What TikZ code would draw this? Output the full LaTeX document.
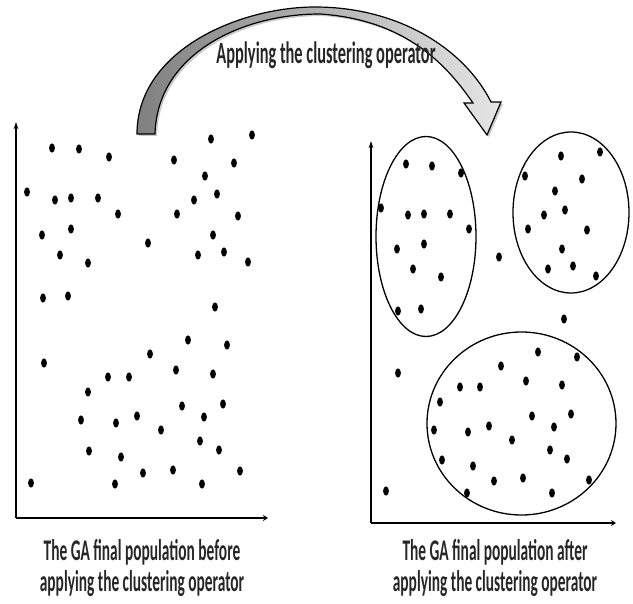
\documentclass[tikz,border=0pt]{standalone}
\usepackage{fontspec}
\setmainfont{Carlito}
\usetikzlibrary{arrows.meta,shadows}
\begin{document}
\begin{tikzpicture}[x=1pt,y=-1pt,
  axis/.style={line width=1.2pt,black},
  dot/.style={fill=black},
  clus/.style={draw=black,line width=1.3pt},
  lbl/.style={font=\fontsize{30}{32}\selectfont\bfseries,xscale=0.513,align=center,inner sep=0pt,text=black!85},
  ttl/.style={font=\fontsize{31}{33}\selectfont\bfseries,xscale=0.528,inner sep=0pt,text=black!85},
  bigarrow/.style={draw=black,line width=1.2pt,left color=black!50,right color=black!10,
     drop shadow={shadow xshift=2pt,shadow yshift=-2pt,opacity=0.3,fill=black!70}}]
\useasboundingbox (0,0) rectangle (633,604);
% curved block arrow
\path[bigarrow] (137,134) .. controls (137,50) and (240,7) .. (315,7)
   .. controls (400,7) and (465,50) .. (491,102)
   -- (501,102) -- (487,135) -- (464,103) -- (473,103)
   .. controls (450,70) and (410,20) .. (320,14)
   .. controls (240,14) and (157,55) .. (155,134) -- cycle;
\node[ttl,anchor=base] (title) at (326,64) {Applying the clustering operator};
% left axes
\coordinate (lo) at (16,518);
\coordinate (ly) at (16,122);
\coordinate (lx) at (268,518);
\draw[axis,-{Stealth[length=7pt,width=4.5pt]}] (lo) -- (ly);
\draw[axis,-{Stealth[length=5pt,width=6pt]}] (lo) -- (lx);
% right axes
\coordinate (ro) at (371,523);
\coordinate (ry) at (371,141);
\coordinate (rx) at (616,523);
\draw[axis,-{Stealth[length=7pt,width=4.5pt]}] (ro) -- (ry);
\draw[axis,-{Stealth[length=5pt,width=6pt]}] (ro) -- (rx);
% clusters
\draw[clus] (426,236.5) ellipse [x radius=50,y radius=100];
\draw[clus] (571,212.5) ellipse [x radius=58,y radius=80.5];
\draw[clus] (521.5,423.5) ellipse [x radius=94.5,y radius=91.5];
% left dots
\foreach \p in {(52,148),(79,149),(109,157),(174,160),(211,139),(252,135),(234,163),(205,176),(27,192),(55,200),(71,198),(98,198),(118,214),(177,214),(194,200),(217,194),(238,216),(42,235),(71,229),(148,243),(213,235),(60,255),(88,263),(198,255),(224,252),(248,262),(43,298),(68,296),(215,307),(188,340),(227,345),(150,354),(44,363),(108,377),(129,377),(176,370),(213,374),(88,392),(182,406),(223,404),(81,420),(116,423),(137,416),(161,430),(204,417),(89,451),(121,457),(200,441),(219,450),(31,483),(115,484),(143,473),(173,470),(202,484),(240,471)}
  \fill[dot] \p ellipse [x radius=2.9,y radius=4.6];
% right dots
\foreach \p in {(406,164),(432,166),(461,173),(381,208),(408,215),(424,214),(450,214),(469,229),(397,249),(424,244),(413,269),(441,277),(398,311),(421,309),(499,257),(561,156),(600,152),(525,176),(582,179),(555,191),(565,210),(544,215),(528,229),(587,230),(562,249),(548,269),(573,266),(596,276),(564,319),(398,373),(386,491),(538,352),(577,357),(501,366),(526,381),(562,385),(460,387),(480,387),(440,402),(532,416),(571,414),(434,430),(468,432),(489,426),(512,440),(554,427),(442,460),(473,466),(550,450),(567,459),(494,481),(523,478),(467,493),(552,493),(589,480)}
  \fill[dot] \p ellipse [x radius=2.9,y radius=4.6];
% labels
\node[lbl,anchor=base] (leftlbl1) at (142,561) {The GA final population before};
\node[lbl,anchor=base] (leftlbl2) at (142,591) {applying the clustering operator};
\node[lbl,anchor=base] (rightlbl1) at (495,561) {The GA final population after};
\node[lbl,anchor=base] (rightlbl2) at (495,591) {applying the clustering operator};
\end{tikzpicture}
\end{document}
